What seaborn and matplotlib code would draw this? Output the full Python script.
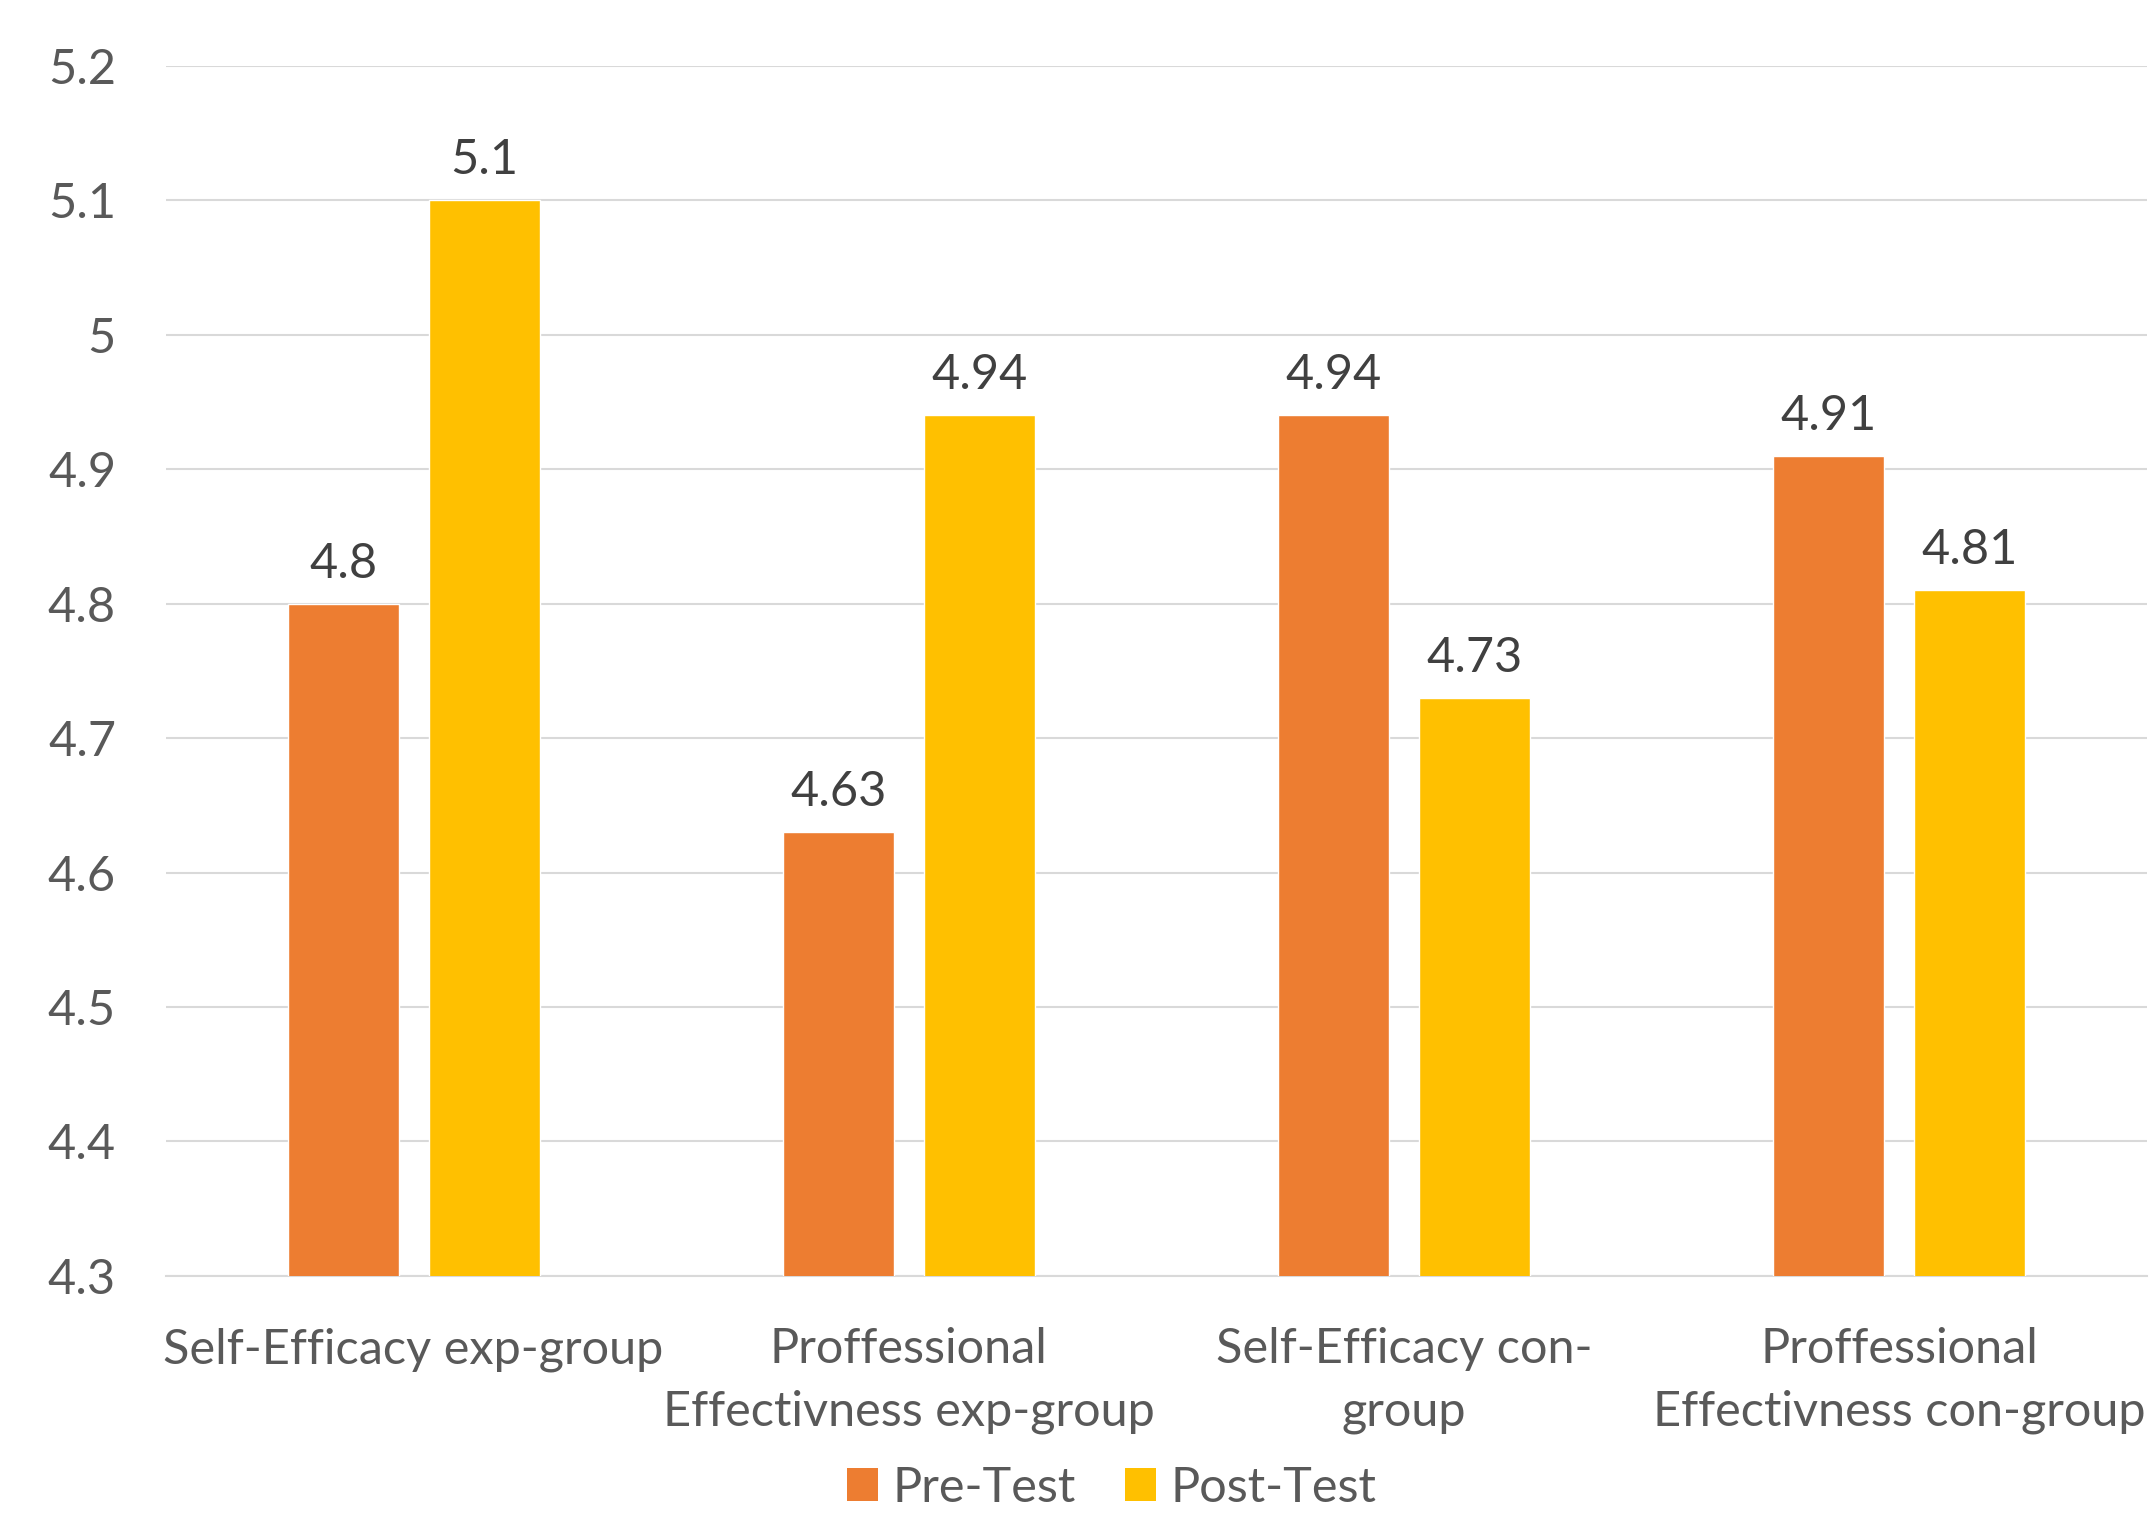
import matplotlib
matplotlib.use("Agg")
import matplotlib.pyplot as plt
import seaborn as sns
import pandas as pd
from matplotlib.patches import Patch

categories = ["Self-Efficacy exp-group",
              "Proffessional\nEffectivness exp-group",
              "Self-Efficacy con-\ngroup",
              "Proffessional\nEffectivness con-group"]
series = ["Pre-Test", "Post-Test"]
pre_values = [4.8, 4.63, 4.94, 4.91]
post_values = [5.1, 4.94, 4.73, 4.81]
y_ticks = [4.3, 4.4, 4.5, 4.6, 4.7, 4.8, 4.9, 5.0, 5.1, 5.2]
y_tick_labels = ["4.3", "4.4", "4.5", "4.6", "4.7", "4.8", "4.9", "5", "5.1", "5.2"]
colors = ["#ED7D31", "#FFC000"]

df = pd.DataFrame({
    "category": categories * 2,
    "series": [series[0]] * 4 + [series[1]] * 4,
    "value": pre_values + post_values,
})

sns.set_theme(style="white")
plt.rcParams['font.family'] = ['Lato', 'DejaVu Sans']

fig = plt.figure(figsize=(21.5, 15.17), dpi=100)
ax = fig.add_axes([0.0772, 0.159, 0.9214, 0.7975])

sns.barplot(data=df, x="category", y="value", hue="series", order=categories,
            hue_order=series, palette=colors, width=0.57, gap=0.214,
            saturation=1, legend=False, ax=ax, zorder=3)

ax.set_ylim(4.3, 5.2)
ax.set_xlim(-0.5, 3.5)
ax.set_yticks(y_ticks)
ax.set_yticklabels(y_tick_labels)
ax.yaxis.grid(True, color="#D9D9D9", linewidth=1.5, zorder=0)
ax.set_axisbelow(True)
for s in ["top", "right", "left"]:
    ax.spines[s].set_visible(False)
ax.spines["bottom"].set_color("#D9D9D9")
ax.spines["bottom"].set_linewidth(1.5)
ax.tick_params(axis="both", length=0, labelsize=35, colors="#595959")
ax.tick_params(axis="y", pad=36)
ax.tick_params(axis="x", pad=37)
ax.set_xlabel("")
ax.set_ylabel("")
for lbl in ax.get_xticklabels():
    lbl.set_linespacing(1.5)

for cont in ax.containers:
    ax.bar_label(cont, labels=[f"{v:g}" for v in cont.datavalues],
                 padding=13, fontsize=35, color="#404040")

handles = [Patch(facecolor=c, edgecolor="none") for c in colors]
fig.legend(handles, series, loc="lower center", bbox_to_anchor=(0.517, -0.024),
           ncol=2, frameon=False, fontsize=35, labelcolor="#595959",
           handlelength=0.65, handleheight=0.65, handletextpad=0.3,
           columnspacing=1.0)

fig.savefig("out.png", dpi=100)
